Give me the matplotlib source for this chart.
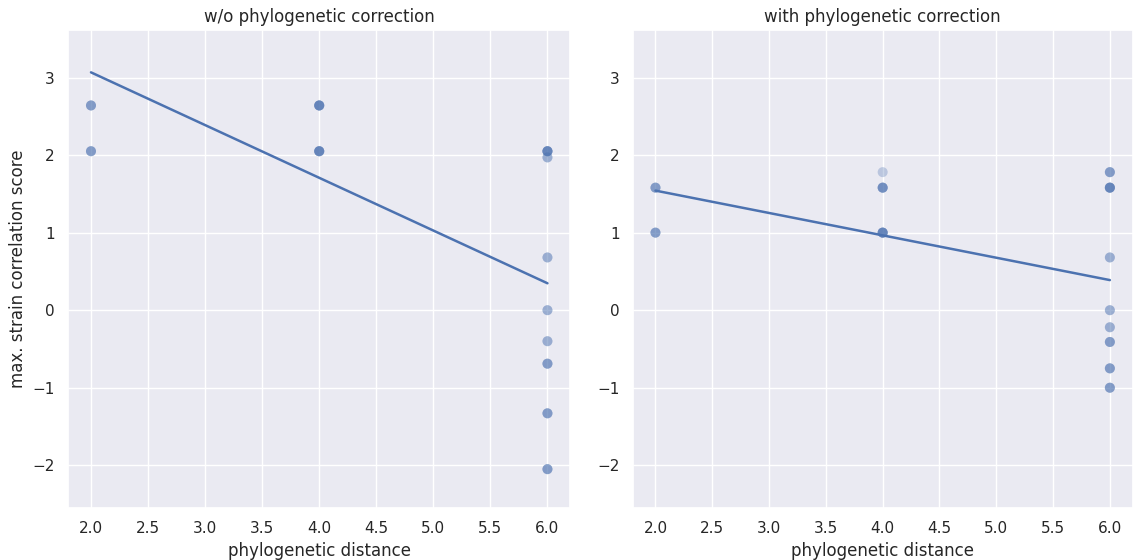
import numpy as np
import matplotlib
matplotlib.use("Agg")
import matplotlib.pyplot as plt
import seaborn as sns

sns.set_theme()

# left panel: w/o phylogenetic correction (x, y, how many stacked points)
raw_x = [2, 2, 4, 4, 6, 6, 6, 6, 6, 6, 6, 6]
raw_y = [2.64, 2.05, 2.64, 2.05, 2.05, 1.97, 0.68, 0.0, -0.40, -0.69, -1.33, -2.05]
raw_n = [3, 3, 5, 5, 5, 2, 2, 2, 2, 3, 3, 3]
raw_fit = [4.427, -0.68]  # intercept, slope

# right panel: with phylogenetic correction
cor_x = [2, 2, 4, 4, 4, 6, 6, 6, 6, 6, 6, 6, 6]
cor_y = [1.58, 1.0, 1.78, 1.58, 1.0, 1.78, 1.58, 0.68, 0.0, -0.22, -0.41, -0.75, -1.0]
cor_n = [3, 3, 1, 4, 5, 3, 5, 2, 2, 2, 3, 3, 3]
cor_fit = [2.119, -0.2885]

titles = ["w/o phylogenetic correction", "with phylogenetic correction"]

fig = plt.figure(figsize=(11.36, 5.6), dpi=100)
ax1 = fig.add_axes([0.060, 0.093, 0.442, 0.853])
ax2 = fig.add_axes([0.557, 0.093, 0.440, 0.853])

col = sns.color_palette("deep")[0]

for ax, xs, ys, ns, fit, t in [(ax1, raw_x, raw_y, raw_n, raw_fit, titles[0]),
                               (ax2, cor_x, cor_y, cor_n, cor_fit, titles[1])]:
    px = np.repeat(xs, ns)
    py = np.repeat(ys, ns)
    ax.scatter(px, py, s=52, color=col, alpha=0.3, edgecolors="none")
    ax.plot(px, fit[0] + fit[1] * px, color=col, lw=1.8)
    ax.set_xlim(1.8, 6.2)
    ax.set_ylim(-2.55, 3.61)
    ax.set_xticks(np.arange(2.0, 6.01, 0.5))
    ax.set_yticks([-2, -1, 0, 1, 2, 3])
    ax.set_title(t)
    ax.set_xlabel("phylogenetic distance")

ax1.set_ylabel("max. strain correlation score")

fig.savefig("out.png", dpi=100)
